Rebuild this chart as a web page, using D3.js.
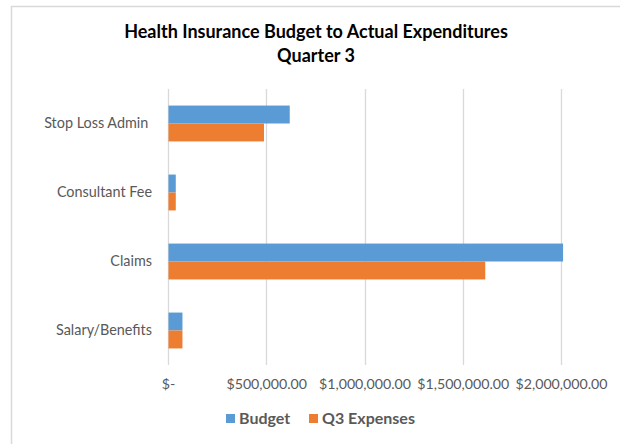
<!DOCTYPE html>
<html><head><meta charset="utf-8">
<script src="https://cdn.jsdelivr.net/npm/d3@7"></script>
<style>body{margin:0;background:#fff}svg{display:block}</style>
</head><body>
<svg id="c" width="620" height="444"></svg>
<script>
const categories = ["Stop Loss Admin ", "Consultant Fee", "Claims", "Salary/Benefits"];
const budget = [617000, 37000, 2008000, 71000];
const q3Expenses = [486000, 37000, 1612000, 71000];
const seriesNames = ["Budget", "Q3 Expenses"];
const seriesColors = ["#5B9BD5", "#ED7D31"];
const tickValues = [0, 500000, 1000000, 1500000, 2000000];
const tickLabels = ["$-", "$500,000.00", "$1,000,000.00", "$1,500,000.00", "$2,000,000.00"];
const titleLines = ["Health Insurance Budget to Actual Expenditures", "Quarter 3"];

const svg = d3.select("#c");
const font = "Lato, 'Open Sans', sans-serif";
const gray = "#595959";

// chart border
svg.append("rect").attr("x", 11.5).attr("y", 6.5).attr("width", 640).attr("height", 460)
  .attr("fill", "#fff").attr("stroke", "#D9D9D9").attr("stroke-width", 1.5);

const plot = {left: 168, right: 561, top: 89, bottom: 365};
const x = d3.scaleLinear().domain([0, 2000000]).range([plot.left, plot.right]);
const y = d3.scaleBand().domain(categories).range([plot.top, plot.bottom]).paddingInner(0.48).paddingOuter(0.24);
const ySub = d3.scaleBand().domain(seriesNames).range([0, y.bandwidth()]);

// gridlines
svg.append("g").selectAll("line").data(tickValues).join("line")
  .attr("x1", d => Math.round(x(d)) + 0.5).attr("x2", d => Math.round(x(d)) + 0.5)
  .attr("y1", plot.top).attr("y2", plot.bottom)
  .attr("stroke", "#D9D9D9").attr("stroke-width", 1.3);

// x axis labels
const xAxis = d3.axisBottom(x).tickValues(tickValues).tickFormat((d, i) => tickLabels[i]).tickSize(0).tickPadding(14);
const gx = svg.append("g").attr("transform", `translate(0,${plot.bottom})`).call(xAxis);
gx.select(".domain").remove();
gx.selectAll("text").attr("fill", gray).attr("font-family", font).attr("font-size", 14.2);

// y axis labels
const yAxis = d3.axisLeft(y).tickSize(0).tickPadding(16);
const gy = svg.append("g").attr("transform", `translate(${plot.left},0)`).call(yAxis);
gy.select(".domain").remove();
gy.selectAll("text").attr("fill", gray).attr("font-family", font).attr("font-size", 14.4)
  .attr("xml:space", "preserve").style("white-space", "pre");

// bars
const rows = categories.map((c, i) => ({c, vals: [budget[i], q3Expenses[i]]}));
const g = svg.append("g").selectAll("g").data(rows).join("g")
  .attr("transform", d => `translate(0,${y(d.c)})`);
g.selectAll("rect").data(d => d.vals.map((v, j) => ({v, s: seriesNames[j], col: seriesColors[j]}))).join("rect")
  .attr("x", x(0) + 0.5).attr("y", d => ySub(d.s))
  .attr("width", d => x(d.v) - x(0)).attr("height", ySub.bandwidth())
  .attr("fill", d => d.col);

// title
svg.append("text").attr("x", 316).attr("y", 38).attr("text-anchor", "middle")
  .attr("font-family", font).attr("font-weight", "bold").attr("font-size", 18).attr("fill", "#000")
  .selectAll("tspan").data(titleLines).join("tspan")
  .attr("x", 316).attr("dy", (d, i) => i ? 24 : 0).text(d => d);

// legend
const legendX = [226, 309];
const leg = svg.append("g").selectAll("g").data(seriesNames).join("g")
  .attr("transform", (d, i) => `translate(${legendX[i]},414)`);
leg.append("rect").attr("width", 9).attr("height", 9).attr("fill", (d, i) => seriesColors[i]);
leg.append("text").attr("x", 13).attr("y", 10).text(d => d)
  .attr("font-family", font).attr("font-weight", "bold").attr("font-size", 16).attr("fill", gray);
</script>
</body></html>
